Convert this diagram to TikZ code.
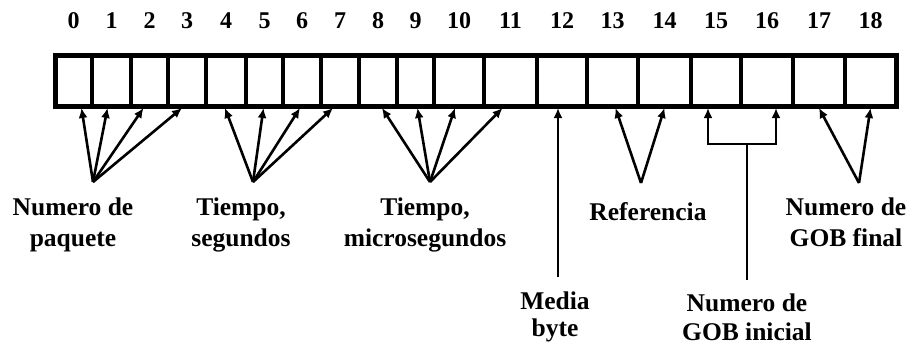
\documentclass[tikz,border=0pt]{standalone}
\usepackage{fontspec}
\setmainfont{Liberation Serif}
\usetikzlibrary{arrows.meta}

\begin{document}
\begin{tikzpicture}[x = 1pt, y = -1pt,
  cell/.style = {draw, line width = 3.5pt, inner sep = 0pt, outer sep = 0pt, minimum height = 51pt},
  num/.style = {anchor = base, inner sep = 0pt, font = \fontsize{24}{24}\selectfont\bfseries},
  lbl/.style = {align = center, anchor = north, inner sep = 0pt, font = \fontsize{25.5}{31}\selectfont\bfseries},
  ptr/.style = {-{Latex[length = 10pt, width = 9pt]}, line width = 2.6pt},
  dptr/.style = {{Latex[length = 10pt, width = 9pt]}-{Latex[length = 10pt, width = 9pt]}, line width = 2.6pt},
  wire/.style = {line width = 2.6pt}]
\useasboundingbox (0,0) rectangle (914,348);
% header cells (left edge / right edge) and their numbers
\foreach \i/\l/\r in {0/55/92, 1/92/131, 2/131/168, 3/168/206, 4/206/246, 5/246/283, 6/283/321,
    7/321/359, 8/359/397, 9/397/434, 10/434/484, 11/484/537, 12/537/587, 13/587/638,
    14/638/691, 15/691/741, 16/741/793, 17/793/845, 18/845/896}
{
  \node[cell, minimum width = {\r-\l}] (c\i) at ({(\l+\r)/2}, 80.5) {};
  \node[num] (n\i) at ({(\l+\r)/2}, 28) {\i};
}
\draw[line width = 5pt] (c0.north west) rectangle (c18.south east);

% fields
\node[lbl] (paquete) at (73,198) {Numero de\\paquete};
\node[lbl] (seg) at (241,198) {Tiempo,\\segundos};
\node[lbl] (micro) at (425,198) {Tiempo,\\microsegundos};
\node[lbl, font = \fontsize{25.5}{27}\selectfont\bfseries] (media) at (555,292) {Media\\byte};
\node[lbl] (ref) at (648,202) {Referencia};
\node[lbl, font = \fontsize{25.5}{29}\selectfont\bfseries] (gobini) at (747,294) {Numero de\\GOB inicial};
\node[lbl] (gobfin) at (846,198) {Numero de\\GOB final};

\coordinate (p1) at (93,182);
\coordinate (p2) at (253,182);
\coordinate (p3) at (430,182);
\coordinate (p4) at (641,183);
\coordinate (p5) at (859,183);
\coordinate (m) at (558,277);
\coordinate (g) at (747,280);
\coordinate (gl) at (708,144);
\coordinate (gr) at (776,144);

\foreach \i/\s in {0/8, 1/-4, 2/-6, 3/-5}
  \draw[ptr] (p1) -- ([xshift = \s pt, yshift = -2pt]c\i.south);
\foreach \i/\s in {4/-1, 5/-1, 6/-2, 7/-7}
  \draw[ptr] (p2) -- ([xshift = \s pt, yshift = -2pt]c\i.south);
\foreach \i/\s in {8/4, 9/2, 10/-4, 11/-8}
  \draw[ptr] (p3) -- ([xshift = \s pt, yshift = -2pt]c\i.south);
\draw[ptr] (m) -- ([xshift = -4pt, yshift = -2pt]c12.south);
\draw[ptr] (p4) -- ([xshift = 3pt, yshift = -2pt]c13.south);
\draw[ptr] (p4) -- ([yshift = -2pt]c14.south);
\draw[dptr] ([xshift = -8pt, yshift = -2pt]c15.south) -- (gl) -- (gr) -- ([xshift = 9pt, yshift = -2pt]c16.south);
\draw[wire] (g) -- (g |- gl);
\draw[ptr] (p5) -- ([yshift = -2pt]c17.south);
\draw[ptr] (p5) -- ([yshift = -2pt]c18.south);
\end{tikzpicture}
\end{document}
